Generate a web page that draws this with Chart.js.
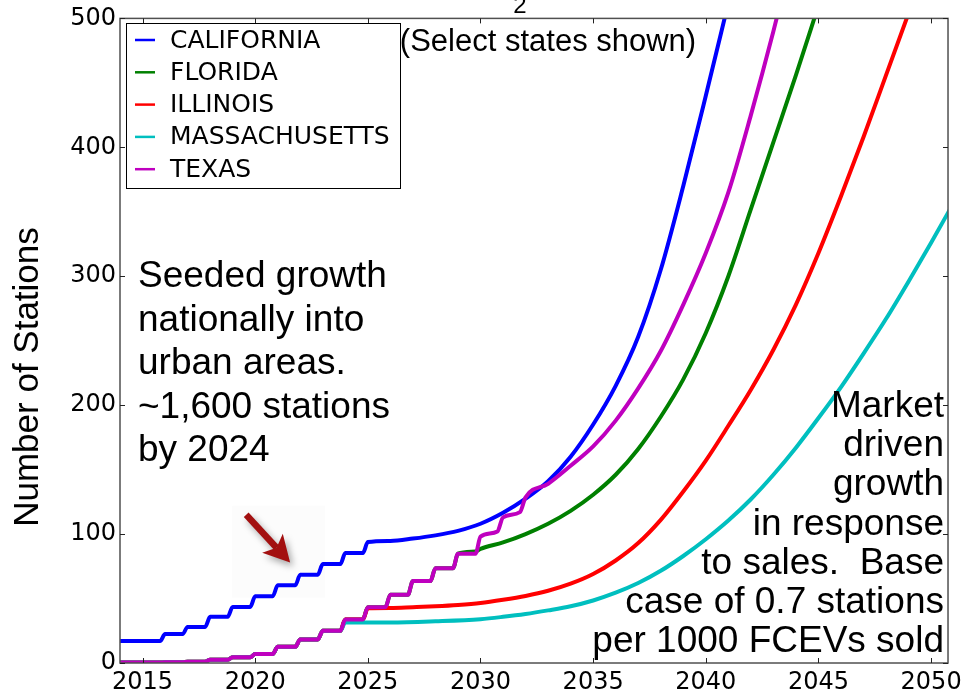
<!DOCTYPE html>
<html>
<head>
<meta charset="utf-8">
<script src="https://cdn.jsdelivr.net/npm/chart.js@4/dist/chart.umd.min.js"></script>
<style>
  html, body { margin: 0; padding: 0; background: #ffffff; }
  canvas { display: block; }
</style>
</head>
<body>
<canvas id="stations" width="967" height="691"></canvas>
<script>
// Station build-out per state, number of stations by year.
// Early years follow the seeded (stepped) roll-out, later years the market-driven curve.

const xTicks = [2015, 2020, 2025, 2030, 2035, 2040, 2045, 2050];
const yTicks = [0, 100, 200, 300, 400, 500];

const stateNames = ['CALIFORNIA', 'FLORIDA', 'ILLINOIS', 'MASSACHUSETTS', 'TEXAS'];
const stateColors = ['#0000ff', '#008000', '#ff0000', '#00bfbf', '#bf00bf'];

const caYears = [2014, 2015.78, 2016, 2016.78, 2017, 2017.78, 2018, 2018.78, 2019, 2019.78,
  2020, 2020.78, 2021, 2021.78, 2022, 2022.78, 2023, 2023.78, 2024, 2024.78, 2025,
  2026, 2027, 2028, 2029, 2030, 2031, 2032, 2033, 2034, 2035, 2036, 2037, 2038, 2039, 2040, 2041];
const caStations = [17, 17, 22.4, 22.4, 28, 28, 35.8, 35.8, 43.5, 43.5,
  51.8, 51.8, 60.3, 60.3, 68.5, 68.5, 76.7, 76.7, 85.3, 85.3, 93.8,
  94.7, 96.5, 99, 102.5, 108, 116.5, 127.5, 141, 160, 185, 215, 253, 305, 370, 440, 512];

// Seeded steps shared by the other states up to 2024
const seedYears = [2014, 2015.78, 2016, 2016.78, 2017, 2017.78, 2018, 2018.78, 2019, 2019.78,
  2020, 2020.78, 2021, 2021.78, 2022, 2022.78, 2023, 2023.78];
const seedStations = [0.3, 0.3, 0.5, 0.5, 1.0, 1.0, 2.5, 2.5, 4.5, 4.5,
  7.0, 7.0, 12.6, 12.6, 18.3, 18.3, 25, 25];

const txYears = seedYears.concat([2024, 2024.78, 2025, 2025.78, 2026, 2026.78, 2027, 2027.78,
  2028, 2028.78, 2029, 2029.78, 2030, 2030.75, 2031, 2031.75, 2032,
  2033, 2034, 2035, 2036, 2037, 2038, 2039, 2040, 2041, 2042, 2043, 2044]);
const txStations = seedStations.concat([33.8, 33.8, 43.3, 43.3, 53, 53, 63.6, 63.6,
  73.5, 73.5, 84.8, 84.8, 98, 102, 113, 117, 128.5,
  139, 153, 168, 188, 213, 242, 278, 318, 365, 425, 490, 560]);

const flYears = seedYears.concat([2024, 2024.78, 2025, 2025.78, 2026, 2026.78, 2027, 2027.78,
  2028, 2028.78, 2029, 2029.78, 2030, 2031, 2032, 2033, 2034, 2035, 2036, 2037, 2038,
  2039, 2040, 2041, 2042, 2043, 2044, 2045]);
const flStations = seedStations.concat([33.8, 33.8, 43.3, 43.3, 53, 53, 63.6, 63.6,
  73.5, 73.5, 84.8, 86.5, 88.5, 93.5, 100, 108, 118, 130.5, 146, 166, 191,
  220, 256, 300, 352, 404, 456, 510]);

const ilYears = seedYears.concat([2024, 2024.78, 2025, 2026, 2027, 2028, 2029, 2030, 2031,
  2032, 2033, 2034, 2035, 2036, 2037, 2038, 2039, 2040, 2041, 2042, 2043, 2044, 2045,
  2046, 2047, 2048, 2049]);
const ilStations = seedStations.concat([33.8, 33.8, 42.5, 42.7, 43.3, 44, 45, 46.5, 49,
  52, 56, 61.5, 69, 79.5, 93, 111, 133, 157, 184, 212, 243, 278, 318,
  362, 408, 456, 504]);

const maYears = seedYears.concat([2024, 2026, 2028, 2030, 2031, 2032, 2033, 2034, 2035,
  2036, 2037, 2038, 2039, 2040, 2041, 2042, 2043, 2044, 2045, 2046, 2047, 2048, 2049, 2050, 2051]);
const maStations = seedStations.concat([31.4, 31.5, 32.4, 34, 35.8, 38, 40.8, 44, 48.5,
  54.5, 62, 71.5, 83, 96, 110.5, 127, 146, 167, 190, 214, 240, 267, 296, 326, 357]);

const seriesYears = [caYears, flYears, ilYears, maYears, txYears];
const seriesStations = [caStations, flStations, ilStations, maStations, txStations];

// Arrow pointing at the seeded steps: [year, stations]
const arrowFrom = [2019.6, 115];
const arrowTo = [2021.55, 78];

const leftNote = ['Seeded growth', 'nationally into', 'urban areas.', '~1,600 stations', 'by 2024'];
const rightNote = ['Market', 'driven', 'growth', 'in response', 'to sales.  Base',
  'case of 0.7 stations', 'per 1000 FCEVs sold'];

const SANS = '"Liberation Sans", Arial, sans-serif';
const DEJAVU = '"DejaVu Sans", sans-serif';

const datasets = stateNames.map((name, i) => ({
  label: name,
  data: seriesYears[i].map((yr, k) => ({ x: yr, y: seriesStations[i][k] })),
  borderColor: stateColors[i],
  backgroundColor: stateColors[i],
  borderWidth: 4,
  pointRadius: 0,
  cubicInterpolationMode: 'monotone',
  borderJoinStyle: 'round',
  fill: false,
  clip: 0,
  // later states drawn above earlier ones
  order: stateNames.length - i
}));

const decorations = {
  id: 'decorations',
  beforeDraw(chart) {
    const ctx = chart.ctx;
    ctx.save();
    ctx.fillStyle = '#ffffff';
    ctx.fillRect(0, 0, chart.width, chart.height);
    // faint panel behind the arrow
    const xs = chart.scales.x, ys = chart.scales.y;
    const ax = xs.getPixelForValue(arrowFrom[0]), ay = ys.getPixelForValue(arrowFrom[1]);
    ctx.fillStyle = '#fcfcfc';
    ctx.fillRect(ax - 14, ay - 9, 93, 92);
    ctx.restore();
  },
  afterDatasetsDraw(chart) {
    const ctx = chart.ctx;
    const a = chart.chartArea;
    const xs = chart.scales.x, ys = chart.scales.y;
    ctx.save();

    // frame
    ctx.strokeStyle = '#505050';
    ctx.lineWidth = 1.5;
    ctx.strokeRect(a.left, a.top, a.right - a.left, a.bottom - a.top);

    // inward ticks on all four sides
    ctx.beginPath();
    xTicks.forEach(v => {
      const px = Math.round(xs.getPixelForValue(v)) + 0.5;
      ctx.moveTo(px, a.bottom); ctx.lineTo(px, a.bottom - 5);
      ctx.moveTo(px, a.top); ctx.lineTo(px, a.top + 5);
    });
    yTicks.forEach(v => {
      const py = Math.round(ys.getPixelForValue(v)) + 0.5;
      ctx.moveTo(a.left, py); ctx.lineTo(a.left + 5, py);
      ctx.moveTo(a.right, py); ctx.lineTo(a.right - 5, py);
    });
    ctx.lineWidth = 1;
    ctx.strokeStyle = '#222';
    ctx.stroke();

    // arrow
    const x0 = xs.getPixelForValue(arrowFrom[0]), y0 = ys.getPixelForValue(arrowFrom[1]);
    const x1 = xs.getPixelForValue(arrowTo[0]), y1 = ys.getPixelForValue(arrowTo[1]);
    const ang = Math.atan2(y1 - y0, x1 - x0);
    const headLen = 26, headHalf = 14;
    const bx = x1 - headLen * Math.cos(ang), by = y1 - headLen * Math.sin(ang);
    ctx.shadowColor = 'rgba(0,0,0,0.35)';
    ctx.shadowBlur = 7;
    ctx.shadowOffsetX = 3;
    ctx.shadowOffsetY = 4;
    ctx.strokeStyle = '#a31010';
    ctx.fillStyle = '#a31010';
    ctx.lineWidth = 6.5;
    ctx.lineCap = 'butt';
    ctx.beginPath();
    ctx.moveTo(x0, y0);
    ctx.lineTo(bx + 6 * Math.cos(ang), by + 6 * Math.sin(ang));
    ctx.stroke();
    ctx.beginPath();
    ctx.moveTo(x1, y1);
    ctx.lineTo(bx + headHalf * Math.sin(ang), by - headHalf * Math.cos(ang));
    ctx.lineTo(bx + 6 * Math.cos(ang), by + 6 * Math.sin(ang));
    ctx.lineTo(bx - headHalf * Math.sin(ang), by + headHalf * Math.cos(ang));
    ctx.closePath();
    ctx.fill();
    ctx.shadowColor = 'transparent';
    ctx.shadowBlur = 0;
    ctx.shadowOffsetX = 0;
    ctx.shadowOffsetY = 0;

    // legend
    const lx = 126, ly = 23, lw = 274, lh = 165;
    ctx.fillStyle = '#ffffff';
    ctx.fillRect(lx, ly, lw, lh);
    ctx.strokeStyle = '#000';
    ctx.lineWidth = 1;
    ctx.strokeRect(lx + 0.5, ly + 0.5, lw, lh);
    ctx.font = '25px ' + DEJAVU;
    ctx.textAlign = 'left';
    ctx.textBaseline = 'middle';
    chart.data.datasets.forEach((ds, i) => {
      const yy = ly + 17 + i * 32.3;
      ctx.strokeStyle = ds.borderColor;
      ctx.lineWidth = 2.5;
      ctx.beginPath();
      ctx.moveTo(lx + 9, yy);
      ctx.lineTo(lx + 29, yy);
      ctx.stroke();
      ctx.fillStyle = '#000';
      ctx.fillText(ds.label, lx + 44, yy + 1);
    });

    // notes
    ctx.fillStyle = '#000';
    ctx.font = '37px ' + SANS;
    ctx.textBaseline = 'alphabetic';
    ctx.textAlign = 'left';
    leftNote.forEach((t, i) => ctx.fillText(t, 138, 287 + i * 43.6));
    ctx.textAlign = 'right';
    rightNote.forEach((t, i) => ctx.fillText(t, 944, 417 + i * 39.2));

    // headings
    ctx.textAlign = 'center';
    ctx.font = '31px ' + SANS;
    ctx.textBaseline = 'middle';
    ctx.fillText('(Select states shown)', 548, 42);
    ctx.font = '24px ' + SANS;
    ctx.textBaseline = 'alphabetic';
    ctx.fillText('2', 520, 13);

    // y axis title
    ctx.save();
    ctx.translate(28, 377);
    ctx.rotate(-Math.PI / 2);
    ctx.font = '35px ' + SANS;
    ctx.textAlign = 'center';
    ctx.textBaseline = 'middle';
    ctx.fillText('Number of Stations', 0, 0);
    ctx.restore();

    ctx.restore();
  }
};

new Chart(document.getElementById('stations'), {
  type: 'line',
  data: { datasets },
  options: {
    responsive: false,
    animation: false,
    layout: { padding: { top: 16, right: 17, left: 0, bottom: 0 } },
    plugins: { legend: { display: false }, tooltip: { enabled: false }, title: { display: false } },
    scales: {
      x: {
        type: 'linear',
        min: 2014,
        max: 2050.75,
        grid: { display: false, drawTicks: false },
        border: { display: false },
        afterBuildTicks: s => { s.ticks = xTicks.map(v => ({ value: v })); },
        afterFit: s => { s.height = 28; },
        ticks: {
          autoSkip: false,
          maxRotation: 0,
          padding: 5,
          color: '#000',
          font: { family: DEJAVU, size: 24 },
          callback: v => String(v)
        }
      },
      y: {
        type: 'linear',
        min: 0,
        max: 500,
        grid: { display: false, drawTicks: false },
        border: { display: false },
        afterBuildTicks: s => { s.ticks = yTicks.map(v => ({ value: v })); },
        afterFit: s => { s.width = 120; },
        ticks: {
          padding: 4,
          color: '#000',
          font: { family: DEJAVU, size: 24 },
          callback: v => String(v)
        }
      }
    }
  },
  plugins: [decorations]
});
</script>
</body>
</html>
